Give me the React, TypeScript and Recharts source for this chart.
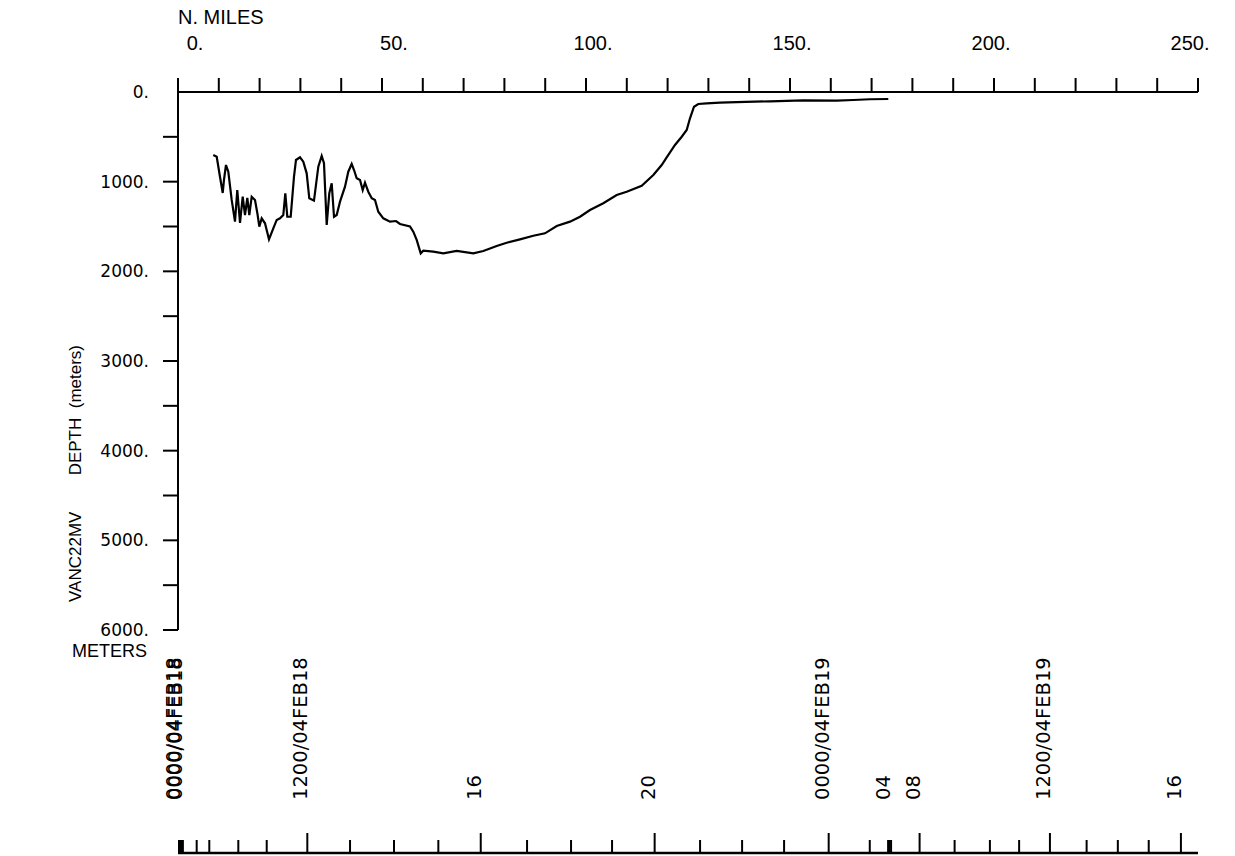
import React from 'react';
import { LineChart, Line, XAxis, YAxis } from 'recharts';

// Along-track distance (n. miles) and bottom depth (meters)
const distanceNm = [
  8.65, 9.49, 10.29, 10.96, 11.27, 11.76, 12.33, 13.16, 13.97, 14.53,
  15.2, 15.86, 16.42, 16.99, 17.48, 18.06, 18.87, 19.44, 19.93, 20.51,
  21.32, 22.3, 23.36, 24.19, 25.0, 25.81, 26.3, 26.79, 27.62, 28.43,
  28.92, 29.9, 30.71, 31.54, 32.18, 33.33, 34.39, 35.22, 35.78, 36.45,
  37.08, 37.67, 38.24, 38.9, 39.71, 40.93, 41.74, 42.57, 43.14, 43.8,
  44.61, 45.27, 45.83, 46.64, 47.48, 48.28, 49.09, 50.32, 51.96, 53.43,
  54.41, 56.86, 57.67, 58.5, 59.49, 60.12, 62.57, 65.02, 68.31, 72.38,
  74.83, 78.11, 80.56, 83.82, 87.08, 89.95, 92.82, 96.08, 98.53, 100.98,
  104.24, 107.52, 109.98, 113.65, 116.5, 118.55, 119.78, 121.81, 123.46, 124.68,
  125.49, 126.47, 127.52, 129.58, 132.84, 136.94, 145.1, 153.26, 161.45, 165.52,
  169.6, 174.09,
];
const depthM = [
  703, 722, 945, 1126, 981, 814, 889, 1204, 1446, 1093,
  1461, 1168, 1372, 1182, 1372, 1168, 1204, 1349, 1502, 1409,
  1464, 1643, 1520, 1427, 1409, 1372, 1130, 1391, 1391, 945,
  758, 728, 777, 907, 1185, 1212, 833, 714, 795, 1483,
  1130, 1018, 1391, 1372, 1223, 1056, 889, 803, 870, 962,
  981, 1093, 1012, 1112, 1185, 1204, 1335, 1409, 1446, 1439,
  1472, 1500, 1558, 1650, 1799, 1770, 1781, 1799, 1773, 1799,
  1773, 1717, 1681, 1643, 1603, 1576, 1494, 1446, 1391, 1316,
  1241, 1149, 1112, 1045, 926, 814, 728, 591, 499, 424,
  293, 164, 134, 126, 119, 112, 104, 93, 97, 89,
  81, 78,
];

const mileTicks = [0, 10, 20, 30, 40, 50, 60, 70, 80, 90, 100, 110, 120, 130, 140, 150, 160, 170, 180, 190, 200, 210, 220, 230, 240, 250];
const mileLabels = [0, 50, 100, 150, 200, 250];
const depthTicks = [0, 500, 1000, 1500, 2000, 2500, 3000, 3500, 4000, 4500, 5000, 5500, 6000];
const depthLabels = [0, 1000, 2000, 3000, 4000, 5000, 6000];

// Time marks along the track, positioned by along-track distance (n. miles)
const timeTickNm = [0.25, 0.5, 0.74, 0.98, 1.2, 4.58, 7.67, 14.78, 21.74, 31.69, 42.16, 52.94, 63.8, 74.19, 85.54, 96.32, 106.37, 116.81, 127.94, 138.24, 148.53, 159.46, 169.53, 174.02, 174.39, 174.75, 181.74, 190.32, 198.97, 206.13, 213.68, 222.67, 230.32, 237.89, 245.78];
const timeTickText = ['', '0000/04FEB18', '', '0000/04FEB18', '', '', '', '', '', '1200/04FEB18', '', '', '', '16', '', '', '', '20', '', '', '', '0000/04FEB19', '', '', '04', '', '08', '', '', '', '1200/04FEB19', '', '', '', '16'];
const timeTickMajor = [false, false, false, false, false, false, false, false, false, true, false, false, false, true, false, false, false, true, false, false, false, true, false, false, false, false, true, false, false, false, true, false, false, false, true];

const data = distanceNm.map((nm, i) => ({ nm, depth: depthM[i] }));

const NARROW = '"Liberation Sans Narrow", "Liberation Sans", Arial, sans-serif';
const WIDE = '"DejaVu Sans", Verdana, sans-serif';

const TopTick = (props: any) => {
  const { x, y, payload } = props;
  const v = payload.value;
  if (!mileLabels.includes(v)) return <g />;
  return (
    <text x={x + 17 - 0.1 * v} y={y - 28} textAnchor="middle" fontFamily={NARROW} fontSize={20} fill="#000">
      {v}.
    </text>
  );
};

const DepthTick = (props: any) => {
  const { x, y, payload } = props;
  const v = payload.value;
  return (
    <g>
      {v !== 0 && <line x1={x + 14} x2={x + 29} y1={y} y2={y} stroke="#000" strokeWidth={2} />}
      {depthLabels.includes(v) && (
        <text x={x} y={y} dy="0.36em" textAnchor="end" fontFamily={WIDE} fontSize={17} fill="#000">
          {v}.
        </text>
      )}
    </g>
  );
};

const TimeTick = (props: any) => {
  const { x, y, payload } = props;
  const i = timeTickNm.indexOf(payload.value);
  const major = timeTickMajor[i];
  const label = timeTickText[i];
  return (
    <g>
      <line x1={x} x2={x} y1={y} y2={y - (major ? 20 : 13)} stroke="#000" strokeWidth={2} />
      {label && (
        <text
          x={x}
          y={y - 53}
          transform={`rotate(-90 ${x} ${y - 53})`}
          textAnchor="start"
          fontFamily={WIDE}
          fontSize={19.5}
          fill="#000"
        >
          {label}
        </text>
      )}
    </g>
  );
};

const MilesTitle = () => (
  <text x={178} y={24} fontFamily={NARROW} fontSize={20} fill="#000">N. MILES</text>
);

const DepthTitle = () => (
  <g fontFamily={NARROW} fontSize={17} fill="#000">
    <text x={81} y={602} transform="rotate(-90 81 602)" textAnchor="start">VANC22MV</text>
    <text x={81} y={345} transform="rotate(-90 81 345)" textAnchor="end" style={{ whiteSpace: 'pre' }}>
      DEPTH  (meters)
    </text>
  </g>
);

const MetersTitle = () => (
  <text x={147} y={657} textAnchor="end" fontFamily={NARROW} fontSize={18} fill="#000">METERS</text>
);

export default function App() {
  return (
    <div style={{ position: 'absolute', left: 0, top: 0, background: '#fff' }}>
      <LineChart
        width={1235}
        height={856}
        data={data}
        margin={{ top: 32, right: 37, bottom: 0, left: 78 }}
      >
        <XAxis
          xAxisId="nm"
          dataKey="nm"
          type="number"
          orientation="top"
          domain={[0, 250]}
          ticks={mileTicks}
          interval={0}
          height={60}
          tickSize={14}
          tickMargin={0}
          tick={<TopTick />}
          tickLine={{ stroke: '#000', strokeWidth: 2 }}
          axisLine={{ stroke: '#000', strokeWidth: 2 }}
          label={<MilesTitle />}
        />
        <XAxis
          xAxisId="spacer"
          dataKey="nm"
          type="number"
          orientation="bottom"
          domain={[0, 250]}
          height={223}
          axisLine={false}
          tickLine={false}
          tick={false}
          label={<MetersTitle />}
        />
        <XAxis
          xAxisId="time"
          dataKey="nm"
          type="number"
          orientation="bottom"
          domain={[0, 245.8]}
          allowDataOverflow
          padding={{ left: 0, right: 17 }}
          ticks={timeTickNm}
          interval={0}
          height={3}
          tickSize={0}
          tickMargin={0}
          tickLine={false}
          tick={<TimeTick />}
          axisLine={{ stroke: '#000', strokeWidth: 2.5 }}
        />
        <YAxis
          type="number"
          domain={[0, 6000]}
          reversed
          ticks={depthTicks}
          interval={0}
          width={100}
          tickSize={15}
          tickMargin={14}
          tickLine={false}
          tick={<DepthTick />}
          axisLine={{ stroke: '#000', strokeWidth: 2 }}
          label={<DepthTitle />}
        />
        <Line
          xAxisId="nm"
          type="linear"
          dataKey="depth"
          stroke="#000"
          strokeWidth={2.2}
          dot={false}
          isAnimationActive={false}
        />
      </LineChart>
    </div>
  );
}
